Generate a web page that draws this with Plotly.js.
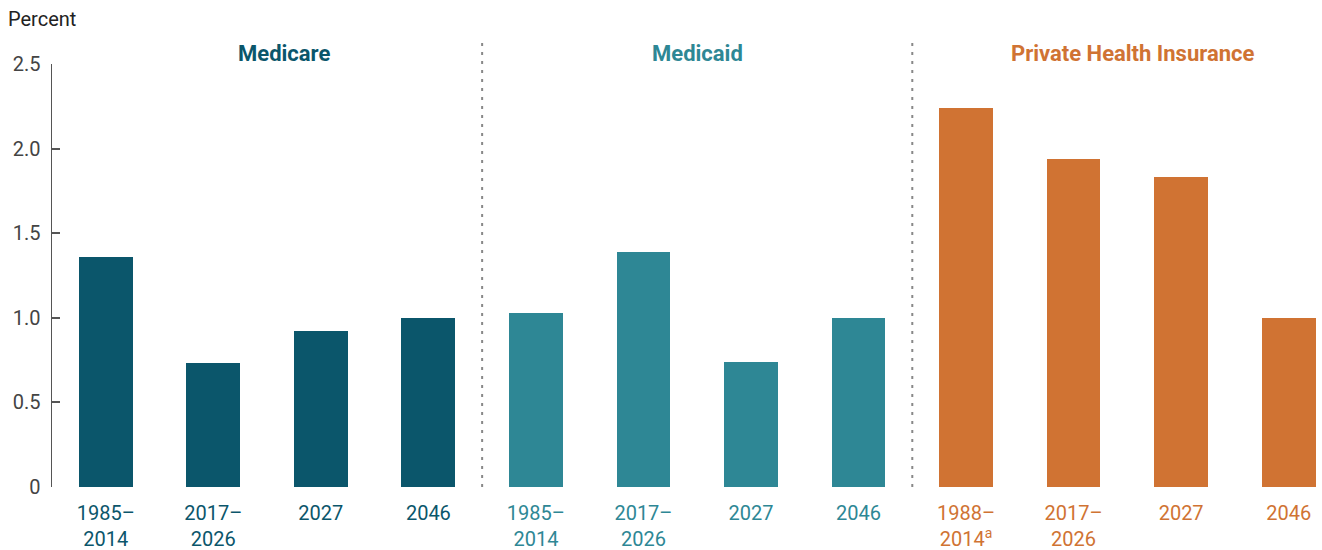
<!DOCTYPE html>
<html>
<head>
<meta charset="utf-8">
<script src="https://cdn.plot.ly/plotly-3.0.1.min.js"></script>
<style>
  body { margin: 0; background: #fff; }
  #chart { width: 1322px; height: 550px; }
</style>
</head>
<body>
<div id="chart"></div>
<script>
// group titles and colours
const groups = ["Medicare", "Medicaid", "Private Health Insurance"];
const groupColors = ["#0b566b", "#2e8795", "#d07333"];

// tick labels per group
const medicareLabels = ["1985–<br>2014", "2017–<br>2026", "2027", "2046"];
const medicaidLabels = ["1985–<br>2014", "2017–<br>2026", "2027", "2046"];
const privateLabels = ["1988–<br>2014<sup>a</sup>", "2017–<br>2026", "2027", "2046"];

// values (percent)
const medicareValues = [1.36, 0.73, 0.92, 1.0];
const medicaidValues = [1.03, 1.39, 0.74, 1.0];
const privateValues = [2.24, 1.94, 1.83, 1.0];

const yTicks = [0, 0.5, 1.0, 1.5, 2.0, 2.5];
const yTickText = ["0", "0.5", "1.0", "1.5", "2.0", "2.5"];

const allLabels = [medicareLabels, medicaidLabels, privateLabels];
const allValues = [medicareValues, medicaidValues, privateValues];

const traces = [];
const tickvals = [];
const ticktext = [];
allValues.forEach((vals, g) => {
    const xs = vals.map((v, i) => g * 4 + i);
    traces.push({
        type: "bar",
        x: xs,
        y: vals,
        width: 0.5,
        marker: { color: groupColors[g] },
        hoverinfo: "y",
        showlegend: false
    });
    xs.forEach((x, i) => {
        tickvals.push(x);
        ticktext.push('<span style="color:' + groupColors[g] + '">' + allLabels[g][i] + '</span>');
    });
});

// dotted dividers between groups
const shapes = [3.5, 7.5].map((x) => ({
    type: "line",
    xref: "x", yref: "paper",
    x0: x, x1: x, y0: 0, y1: 1.06,
    line: { color: "#888", width: 2, dash: "3px,6px" }
}));

const titleX = [1.66, 5.5, 9.55];
const annotations = groups.map((name, g) => ({
    text: "<b>" + name + "</b>",
    xref: "x", yref: "paper",
    x: titleX[g], y: 1.026,
    xanchor: "center", yanchor: "middle",
    showarrow: false,
    font: { size: 22, color: groupColors[g] }
}));
annotations.push({
    text: "Percent",
    xref: "paper", yref: "paper",
    x: -0.036, y: 1.106,
    xanchor: "left", yanchor: "middle",
    showarrow: false,
    font: { size: 20, color: "#222" }
});

const layout = {
    width: 1322,
    height: 550,
    margin: { l: 52, r: 0, t: 64, b: 63 },
    paper_bgcolor: "#fff",
    plot_bgcolor: "#fff",
    font: { family: "Roboto, 'Liberation Sans', sans-serif", size: 20, color: "#444" },
    bargap: 0,
    xaxis: {
        range: [-0.5, 11.31],
        tickvals: tickvals,
        ticktext: ticktext,
        ticks: "",
        showline: false,
        showgrid: false,
        zeroline: false,
        ticklabelstandoff: 12,
        tickfont: { size: 20 },
        fixedrange: true
    },
    yaxis: {
        range: [0, 2.5],
        tickvals: yTicks,
        ticktext: yTickText,
        ticks: "inside",
        ticklen: 8,
        tickcolor: "#555",
        tickwidth: 2,
        showline: true,
        linecolor: "#555",
        linewidth: 1.5,
        showgrid: false,
        zeroline: false,
        ticklabelstandoff: 6,
        tickfont: { size: 20, color: "#444" },
        fixedrange: true
    },
    shapes: shapes,
    annotations: annotations
};

Plotly.newPlot("chart", traces, layout, { displayModeBar: false, staticPlot: true });
</script>
</body>
</html>
